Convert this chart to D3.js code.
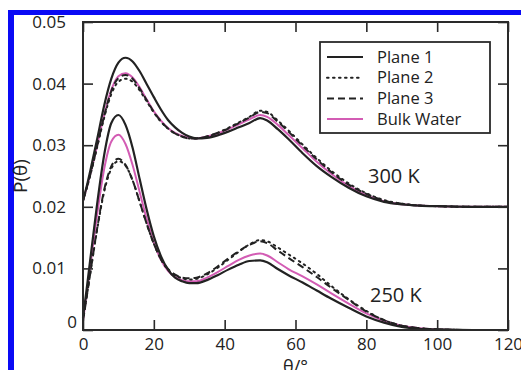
<!DOCTYPE html>
<html>
<head>
<meta charset="utf-8">
<script src="https://cdn.jsdelivr.net/npm/d3@7"></script>
<style>
  html, body { margin: 0; padding: 0; background: #fff; overflow: hidden; }
  svg { display: block; }
</style>
</head>
<body>
<svg id="chart" width="521" height="370"></svg>
<script>
// Angle grid shared by every series (degrees).
const theta = [0, 1, 2, 4, 6, 8, 10, 12, 14, 16, 18, 20, 22, 24, 26, 28, 30, 32, 35, 38,
  41, 44, 47, 50, 52, 55, 58, 62, 66, 70, 75, 80, 85, 90, 95, 100, 110, 120];

// 300 K (shifted curves)
const plane1_300 = [0.0210, 0.0232, 0.0257, 0.0310, 0.0365, 0.0408, 0.0434, 0.0442, 0.0436, 0.0420,
  0.0399, 0.0378, 0.0358, 0.0341, 0.0329, 0.0320, 0.0314, 0.0311, 0.0312, 0.0316,
  0.0322, 0.0329, 0.0336, 0.0344, 0.0340, 0.0326, 0.0310, 0.0287, 0.0266, 0.0249,
  0.0231, 0.0217, 0.0208, 0.0204, 0.0202, 0.0201, 0.0200, 0.0200];
const plane2_300 = [0.0210, 0.0229, 0.0250, 0.0297, 0.0345, 0.0383, 0.0403, 0.0408, 0.0403, 0.0389,
  0.0371, 0.0353, 0.0338, 0.0327, 0.0319, 0.0314, 0.0311, 0.0311, 0.0314, 0.0320,
  0.0328, 0.0337, 0.0346, 0.0356, 0.0354, 0.0340, 0.0324, 0.0301, 0.0279, 0.0259,
  0.0238, 0.0222, 0.0211, 0.0205, 0.0202, 0.0201, 0.0200, 0.0200];
const plane3_300 = [0.0210, 0.0230, 0.0251, 0.0299, 0.0348, 0.0388, 0.0409, 0.0414, 0.0408, 0.0392,
  0.0373, 0.0354, 0.0339, 0.0327, 0.0319, 0.0314, 0.0311, 0.0311, 0.0314, 0.0320,
  0.0327, 0.0336, 0.0345, 0.0354, 0.0352, 0.0338, 0.0322, 0.0299, 0.0277, 0.0257,
  0.0236, 0.0221, 0.0210, 0.0205, 0.0202, 0.0201, 0.0200, 0.0200];
const bulk_300 = [0.0210, 0.0230, 0.0252, 0.0300, 0.0350, 0.0390, 0.0412, 0.0417, 0.0410, 0.0394,
  0.0374, 0.0355, 0.0340, 0.0328, 0.0320, 0.0315, 0.0312, 0.0311, 0.0314, 0.0319,
  0.0326, 0.0334, 0.0342, 0.0349, 0.0346, 0.0333, 0.0317, 0.0295, 0.0273, 0.0254,
  0.0234, 0.0219, 0.0209, 0.0204, 0.0202, 0.0201, 0.0200, 0.0200];

// 250 K
const plane1_250 = [0.0020, 0.0065, 0.0112, 0.0205, 0.0285, 0.0336, 0.0349, 0.0333, 0.0296, 0.0245,
  0.0195, 0.0152, 0.0120, 0.0098, 0.0085, 0.0079, 0.0076, 0.0076, 0.0081, 0.0089,
  0.0098, 0.0106, 0.0112, 0.0113, 0.0110, 0.0099, 0.0089, 0.0077, 0.0064, 0.0051,
  0.0036, 0.0022, 0.0012, 0.0005, 0.0002, 0.0001, 0.0000, 0.0000];
const plane2_250 = [0.0015, 0.0052, 0.0090, 0.0163, 0.0225, 0.0262, 0.0274, 0.0267, 0.0243, 0.0208,
  0.0172, 0.0140, 0.0115, 0.0098, 0.0089, 0.0084, 0.0082, 0.0083, 0.0090, 0.0101,
  0.0114, 0.0127, 0.0139, 0.0146, 0.0144, 0.0134, 0.0123, 0.0108, 0.0091, 0.0072,
  0.0050, 0.0031, 0.0016, 0.0007, 0.0003, 0.0001, 0.0000, 0.0000];
const plane3_250 = [0.0015, 0.0052, 0.0090, 0.0165, 0.0228, 0.0266, 0.0278, 0.0268, 0.0243, 0.0208,
  0.0172, 0.0140, 0.0115, 0.0099, 0.0090, 0.0085, 0.0084, 0.0085, 0.0092, 0.0103,
  0.0116, 0.0128, 0.0138, 0.0144, 0.0141, 0.0129, 0.0117, 0.0102, 0.0086, 0.0069,
  0.0049, 0.0030, 0.0016, 0.0007, 0.0003, 0.0001, 0.0000, 0.0000];
const bulk_250 = [0.0015, 0.0058, 0.0102, 0.0188, 0.0262, 0.0306, 0.0317, 0.0302, 0.0268, 0.0224,
  0.0180, 0.0142, 0.0114, 0.0096, 0.0086, 0.0081, 0.0079, 0.0079, 0.0085, 0.0094,
  0.0104, 0.0114, 0.0121, 0.0124, 0.0121, 0.0110, 0.0099, 0.0087, 0.0074, 0.0060,
  0.0043, 0.0027, 0.0015, 0.0007, 0.0003, 0.0001, 0.0000, 0.0000];

const seriesNames = ["Plane 1", "Plane 2", "Plane 3", "Bulk Water"];
const xTicks = [0, 20, 40, 60, 80, 100, 120];
const yTicks = [0, 0.01, 0.02, 0.03, 0.04, 0.05];
const tempLabels = ["300 K", "250 K"];

const PINK = "#d35cb4";
const INK = "#222";
const styles = {
  "Plane 1": { stroke: INK, width: 2.2, dash: null },
  "Plane 2": { stroke: INK, width: 2, dash: "1.6,4.4" },
  "Plane 3": { stroke: INK, width: 2, dash: "7,4" },
  "Bulk Water": { stroke: PINK, width: 2, dash: null },
};

const svg = d3.select("#chart");
const font = "'Open Sans', 'Liberation Sans', sans-serif";

// Blue frame (top and left edges only; the rest is cropped off).
svg.append("rect").attr("x", 8).attr("y", 10).attr("width", 513).attr("height", 5).attr("fill", "#0a0af5");
svg.append("rect").attr("x", 8).attr("y", 10).attr("width", 6).attr("height", 360).attr("fill", "#0a0af5");

const m = { left: 83, top: 22, right: 508, bottom: 330 };
const x = d3.scaleLinear().domain([0, 120]).range([m.left, m.right]);
const y = d3.scaleLinear().domain([0, 0.05]).range([m.bottom, m.top]);

// Curves, drawn back to front.
const line = d3.line().x((d) => x(d[0])).y((d) => y(d[1])).curve(d3.curveMonotoneX);
const groups = [
  { name: "Bulk Water", vals: bulk_300 }, { name: "Bulk Water", vals: bulk_250 },
  { name: "Plane 3", vals: plane3_300 }, { name: "Plane 3", vals: plane3_250 },
  { name: "Plane 2", vals: plane2_300 }, { name: "Plane 2", vals: plane2_250 },
  { name: "Plane 1", vals: plane1_300 }, { name: "Plane 1", vals: plane1_250 },
];
svg.append("g").selectAll("path").data(groups).join("path")
  .attr("fill", "none")
  .attr("stroke", (d) => styles[d.name].stroke)
  .attr("stroke-width", (d) => styles[d.name].width)
  .attr("stroke-dasharray", (d) => styles[d.name].dash)
  .attr("stroke-linecap", (d) => d.name === "Plane 2" ? "round" : "butt")
  .attr("d", (d) => line(theta.map((t, i) => [t, d.vals[i]])));

// Axes with inward ticks on all four sides.
const fmtY = (v) => v === 0 ? "0" : d3.format(".2f")(v);
function styleAxis(g) {
  g.select(".domain").remove();
  g.selectAll(".tick line").attr("stroke", "#2a2a2a").attr("stroke-width", 1.6);
  g.selectAll("text").attr("fill", INK).style("font-family", font).style("font-size", "17px");
}
svg.append("g").attr("transform", `translate(0,${m.bottom})`)
  .call(d3.axisBottom(x).tickValues(xTicks).tickSize(-10).tickPadding(8).tickFormat(d3.format("d")))
  .call(styleAxis);
svg.append("g").attr("transform", `translate(0,${m.top})`)
  .call(d3.axisTop(x).tickValues(xTicks).tickSize(-10).tickFormat(""))
  .call(styleAxis);
const yAxis = svg.append("g").attr("transform", `translate(${m.left},0)`)
  .call(d3.axisLeft(y).tickValues(yTicks).tickSize(-10).tickPadding(17).tickFormat(fmtY))
  .call(styleAxis);
yAxis.selectAll(".tick text").filter((d) => d === 0).attr("dy", "-0.15em").attr("x", -6);
svg.append("g").attr("transform", `translate(${m.right},0)`)
  .call(d3.axisRight(y).tickValues(yTicks).tickSize(-10).tickFormat(""))
  .call(styleAxis);

svg.append("rect")
  .attr("x", m.left).attr("y", m.top)
  .attr("width", m.right - m.left).attr("height", m.bottom - m.top)
  .attr("fill", "none").attr("stroke", "#2a2a2a").attr("stroke-width", 2);

// Axis titles (the x title is cut by the bottom edge, as in the source).
svg.append("text").attr("x", x(60)).attr("y", 373).attr("text-anchor", "middle")
  .attr("fill", INK).style("font-family", font).style("font-size", "18px").text("θ/°");
svg.append("text").attr("transform", `translate(27,${y(0.025)}) rotate(-90)`)
  .attr("text-anchor", "middle").attr("fill", INK)
  .style("font-family", font).style("font-size", "19px").text("P(θ)");

// Temperature annotations.
svg.append("text").attr("x", 368).attr("y", 183).attr("fill", INK)
  .style("font-family", font).style("font-size", "20px").text(tempLabels[0]);
svg.append("text").attr("x", 370).attr("y", 302).attr("fill", INK)
  .style("font-family", font).style("font-size", "20px").text(tempLabels[1]);

// Legend.
const lg = svg.append("g");
lg.append("rect").attr("x", 320).attr("y", 42).attr("width", 170).attr("height", 91)
  .attr("fill", "#fff").attr("stroke", "#2a2a2a").attr("stroke-width", 1.8);
const item = lg.selectAll("g.item").data(seriesNames).join("g")
  .attr("class", "item")
  .attr("transform", (d, i) => `translate(0,${57 + i * 20.7})`);
item.append("line").attr("x1", 327).attr("x2", 363)
  .attr("stroke", (d) => styles[d].stroke)
  .attr("stroke-width", (d) => styles[d].width)
  .attr("stroke-dasharray", (d) => styles[d].dash)
  .attr("stroke-linecap", (d) => d === "Plane 2" ? "round" : "butt");
item.append("text").attr("x", 377).attr("dy", "0.35em").attr("fill", INK)
  .style("font-family", font).style("font-size", "16.5px").text((d) => d);
</script>
</body>
</html>
